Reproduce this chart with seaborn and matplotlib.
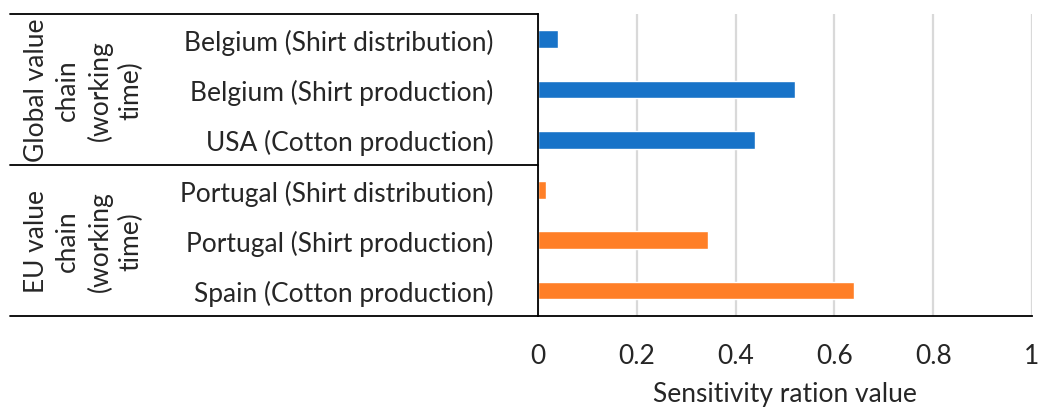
import matplotlib
matplotlib.use("Agg")
import matplotlib.pyplot as plt
import matplotlib.transforms as mtransforms
import seaborn as sns
import pandas as pd

# Sensitivity ratios per process, grouped by value chain
categories = [
    "Belgium (Shirt distribution)",
    "Belgium (Shirt production)",
    "USA (Cotton production)",
    "Portugal (Shirt distribution)",
    "Portugal (Shirt production)",
    "Spain (Cotton production)",
]
groups = ["Global value\nchain\n(working\ntime)"] * 3 + ["EU value\nchain\n(working\ntime)"] * 3
group_names = ["Global value\nchain\n(working\ntime)", "EU value\nchain\n(working\ntime)"]
values = [0.04, 0.52, 0.44, 0.017, 0.344, 0.64]
x_ticks = [0, 0.2, 0.4, 0.6, 0.8, 1]
x_tick_labels = ["0", "0.2", "0.4", "0.6", "0.8", "1"]

df = pd.DataFrame({"process": categories, "chain": groups, "value": values})

sns.set_theme(style="white")
plt.rcParams["font.family"] = ["Lato", "DejaVu Sans"]

FS = 19

fig = plt.figure(figsize=(10.38, 4.10), dpi=100)
ax = fig.add_axes([538 / 1038, 1 - 316.7 / 410, (1032 - 538) / 1038, (316.7 - 15) / 410])

palette = {group_names[0]: "#1873C8", group_names[1]: "#FF7F27"}
sns.barplot(data=df, y="process", x="value", hue="chain", palette=palette,
            dodge=False, width=0.35, legend=False, ax=ax, saturation=1,
            order=categories)

ax.set_xlim(0, 1)
ax.set_ylim(len(categories) - 0.5, -0.5)
ax.set_xticks(x_ticks)
ax.set_xticklabels(x_tick_labels, fontsize=FS)
ax.set_yticks(range(len(categories)))
ax.set_yticklabels(categories, fontsize=FS)
ax.tick_params(axis="x", length=0, pad=20)
ax.tick_params(axis="y", length=0, pad=32)
ax.set_ylabel("")
ax.set_xlabel("Sensitivity ration value", fontsize=FS, labelpad=9)

ax.xaxis.grid(True, color="#D9D9D9", linewidth=1.6)
ax.yaxis.grid(False)
ax.set_axisbelow(True)
for side in ["top", "right"]:
    ax.spines[side].set_visible(False)
for side in ["left", "bottom"]:
    ax.spines[side].set_color("black")
    ax.spines[side].set_linewidth(1.3)

# Table-style grouping lines on the category side
trans = mtransforms.blended_transform_factory(fig.transFigure, ax.transAxes)
x_left = 10 / 1038
x_axis = 538 / 1038
for y in [1.0, 0.5, 0.0]:
    ax.plot([x_left, x_axis], [y, y], color="black", linewidth=1.3,
            transform=trans, clip_on=False)

# Group labels, rotated
for i, name in enumerate(group_names):
    yc = 0.75 - 0.5 * i
    ax.text(84 / 1038, yc, name, transform=trans, rotation=90,
            ha="center", va="center", multialignment="center",
            fontsize=FS, linespacing=1.3)

fig.savefig("out.png", dpi=100)
